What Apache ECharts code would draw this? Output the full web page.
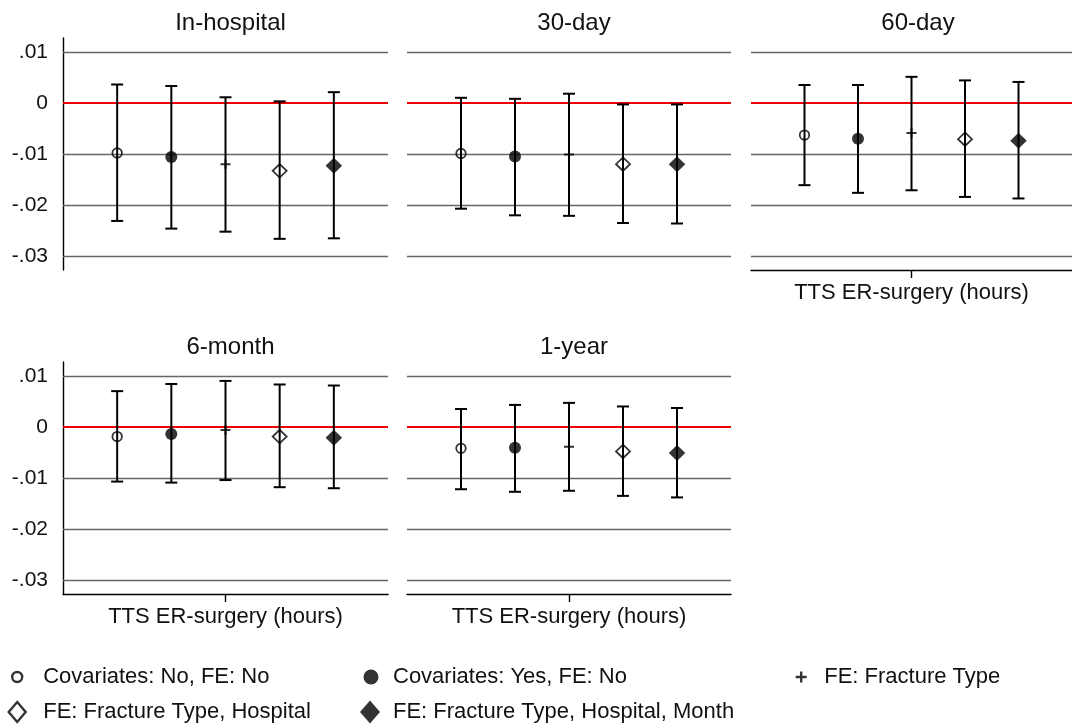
<!DOCTYPE html>
<html>
<head>
<meta charset="utf-8">
<script src="https://cdn.jsdelivr.net/npm/echarts@6/dist/echarts.min.js"></script>
<style>html,body{margin:0;padding:0;background:#fff}#chart{width:1072px;height:726px}</style>
</head>
<body>
<div id="chart"></div>
<script>
// ---- data ----
const panelTitles = ['In-hospital', '30-day', '60-day', '6-month', '1-year'];
const modelNames = ['Covariates: No, FE: No', 'Covariates: Yes, FE: No', 'FE: Fracture Type',
                    'FE: Fracture Type, Hospital', 'FE: Fracture Type, Hospital, Month'];
const modelX = [1, 2, 3, 4, 5];
// point estimates, one value per panel (In-hospital, 30-day, 60-day, 6-month, 1-year)
const est1 = [-0.0098, -0.0099, -0.0063, -0.0019, -0.0042];
const est2 = [-0.0106, -0.0105, -0.0070, -0.0014, -0.0041];
const est3 = [-0.0120, -0.0101, -0.0059, -0.0006, -0.0039];
const est4 = [-0.0133, -0.0120, -0.0071, -0.0019, -0.0048];
const est5 = [-0.0123, -0.0120, -0.0074, -0.0021, -0.0051];
// lower CI bounds
const lo1 = [-0.0231, -0.0207, -0.0161, -0.0107, -0.0122];
const lo2 = [-0.0246, -0.0220, -0.0176, -0.0109, -0.0127];
const lo3 = [-0.0252, -0.0221, -0.0171, -0.0104, -0.0125];
const lo4 = [-0.0266, -0.0235, -0.0184, -0.0118, -0.0135];
const lo5 = [-0.0265, -0.0236, -0.0187, -0.0120, -0.0138];
// upper CI bounds
const hi1 = [0.0036, 0.0010, 0.0035, 0.0070, 0.0035];
const hi2 = [0.0033, 0.0008, 0.0035, 0.0084, 0.0043];
const hi3 = [0.0011, 0.0018, 0.0051, 0.0090, 0.0047];
const hi4 = [0.0003, -0.0003, 0.0044, 0.0083, 0.0040];
const hi5 = [0.0021, -0.0003, 0.0041, 0.0081, 0.0037];
const yTickValues = [0.01, 0, -0.01, -0.02, -0.03];
const yTickLabels = ['.01', '0', '-.01', '-.02', '-.03'];
const xAxisTitle = 'TTS ER-surgery (hours)';

// ---- build ----
const ests = [est1, est2, est3, est4, est5];
const los = [lo1, lo2, lo3, lo4, lo5];
const his = [hi1, hi2, hi3, hi4, hi5];
const FONT = '"Liberation Sans", Arial, Helvetica, sans-serif';

const gridPos = [
  {left: 63, top: 38, width: 325},
  {left: 407, top: 38, width: 324},
  {left: 751, top: 38, width: 324},
  {left: 63, top: 362, width: 325},
  {left: 407, top: 362, width: 324}
];
const GRID_H = 232;
const showYAxis = [true, false, false, true, false];
const showXAxis = [false, false, true, true, true];

const markerStyles = [
  {symbol: 'circle', symbolSize: 9.5, itemStyle: {color: 'transparent', borderColor: '#000', borderWidth: 1.8}},
  {symbol: 'circle', symbolSize: 12, itemStyle: {color: '#000', borderColor: '#000', borderWidth: 0}},
  {symbol: 'path://M0,5L10,5M5,0L5,10', symbolSize: 10, itemStyle: {color: 'transparent', borderColor: '#000', borderWidth: 2}},
  {symbol: 'diamond', symbolSize: [14, 13.5], itemStyle: {color: 'transparent', borderColor: '#000', borderWidth: 1.8}},
  {symbol: 'diamond', symbolSize: [16.5, 16], itemStyle: {color: '#000', borderColor: '#000', borderWidth: 0}}
];

const grids = [], xAxes = [], yAxes = [], series = [], titles = [];
gridPos.forEach((g, i) => {
  grids.push({left: g.left, top: g.top, width: g.width, height: GRID_H, containLabel: false});
  titles.push({
    text: panelTitles[i], left: g.left + g.width / 2, top: g.top === 38 ? 6 : 330,
    textAlign: 'center',
    textStyle: {fontFamily: FONT, fontSize: 24, fontWeight: 'normal', color: '#111'}
  });
  xAxes.push({
    gridIndex: i, type: 'value', min: 0, max: 6, show: showXAxis[i],
    splitLine: {show: false},
    axisLine: {show: true, onZero: false, lineStyle: {color: '#000', width: 1.4}},
    axisTick: {show: true, customValues: [3], length: 8, lineStyle: {color: '#000', width: 1.4}},
    axisLabel: {show: false},
    name: xAxisTitle, nameLocation: 'middle', nameGap: 12,
    nameTextStyle: {fontFamily: FONT, fontSize: 22, color: '#111', verticalAlign: 'top'}
  });
  yAxes.push({
    gridIndex: i, type: 'value', min: -0.0327, max: 0.0127, show: showYAxis[i],
    splitLine: {show: false},
    axisLine: {show: true, onZero: false, lineStyle: {color: '#000', width: 1.4}},
    axisTick: {show: false},
    axisLabel: {
      show: true, customValues: yTickValues, margin: 15,
      fontFamily: FONT, fontSize: 21, color: '#111',
      formatter: v => {
        const k = yTickValues.findIndex(t => Math.abs(t - v) < 1e-9);
        return k >= 0 ? yTickLabels[k] : '';
      }
    }
  });
  // error bars (with gridlines + zero line as markLines beneath)
  series.push({
    type: 'custom', xAxisIndex: i, yAxisIndex: i, z: 2,
    data: modelX.map((x, m) => [x, los[m][i], his[m][i]]),
    encode: {x: 0, y: [1, 2]},
    renderItem: (params, api) => {
      const x = api.value(0);
      const pLo = api.coord([x, api.value(1)]);
      const pHi = api.coord([x, api.value(2)]);
      const hw = 6;
      const st = {stroke: '#000', lineWidth: 2};
      return {type: 'group', children: [
        {type: 'line', shape: {x1: pLo[0], y1: pLo[1], x2: pHi[0], y2: pHi[1]}, style: st},
        {type: 'line', shape: {x1: pLo[0] - hw, y1: pLo[1], x2: pLo[0] + hw, y2: pLo[1]}, style: st},
        {type: 'line', shape: {x1: pHi[0] - hw, y1: pHi[1], x2: pHi[0] + hw, y2: pHi[1]}, style: st}
      ]};
    },
    markLine: {
      z: 1, silent: true, symbol: ['none', 'none'], animation: false,
      label: {show: false},
      data: yTickValues.map(v => ({
        yAxis: v,
        lineStyle: v === 0 ? {color: '#ee0000', width: 2, type: 'solid'}
                           : {color: '#666', width: 1.3, type: 'solid'}
      }))
    }
  });
  modelNames.forEach((name, m) => {
    series.push(Object.assign({
      type: 'scatter', name: name, xAxisIndex: i, yAxisIndex: i, z: 3,
      data: [[modelX[m], ests[m][i]]]
    }, JSON.parse(JSON.stringify(markerStyles[m]))));
  });
});

// legends, one per entry
const legendSpec = [
  {m: 0, cx: 16, cy: 677, w: 10, h: 10, textX: 42, icon: 'circle', st: {color: 'transparent', borderColor: '#000', borderWidth: 2.4}},
  {m: 1, cx: 371, cy: 677, w: 15, h: 15, textX: 393, icon: 'circle', st: {color: '#000', borderWidth: 0}},
  {m: 2, cx: 800, cy: 677, w: 11, h: 11, textX: 823, icon: 'path://M0,5L10,5M5,0L5,10', st: {color: 'transparent', borderColor: '#000', borderWidth: 2.4}},
  {m: 3, cx: 16, cy: 712, w: 17, h: 20, textX: 42, icon: 'diamond', st: {color: 'transparent', borderColor: '#000', borderWidth: 2.4}},
  {m: 4, cx: 370, cy: 712, w: 20, h: 23, textX: 393, icon: 'diamond', st: {color: '#000', borderWidth: 0}}
];
const legends = legendSpec.map(s => {
  const left = s.cx - s.w / 2;
  const pad = s.textX - (left + s.w + 5);
  return {
    left: left, top: s.cy - 13, padding: 0, selectedMode: false,
    itemWidth: s.w, itemHeight: s.h, itemGap: 0,
    data: [{name: modelNames[s.m], icon: s.icon, itemStyle: s.st}],
    textStyle: {fontFamily: FONT, fontSize: 22, color: '#111', padding: [0, 0, 0, pad], lineHeight: 26}
  };
});

const chart = echarts.init(document.getElementById('chart'), null, {renderer: 'canvas'});
chart.setOption({
  backgroundColor: '#fff',
  animation: false,
  title: titles,
  legend: legends,
  grid: grids,
  xAxis: xAxes,
  yAxis: yAxes,
  series: series
});
</script>
</body>
</html>
